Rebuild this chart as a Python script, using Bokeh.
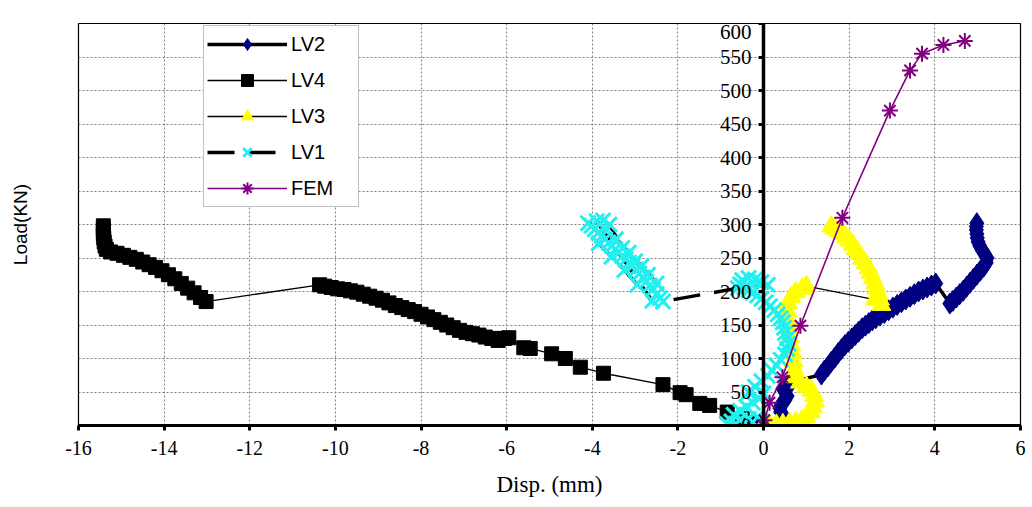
import numpy as np
from bokeh.plotting import figure
from bokeh.models import (Range1d, Legend, LegendItem, FixedTicker, LinearAxis,
                          Label, CustomLabelingPolicy)
from bokeh.embed import file_html
from bokeh.resources import INLINE

# ---------------- data ----------------
x_ticks = [-16, -14, -12, -10, -8, -6, -4, -2, 0, 2, 4, 6]
y_ticks = [0, 50, 100, 150, 200, 250, 300, 350, 400, 450, 500, 550, 600]
y_tick_labels = ["0", "50", "100", "150", "200", "250", "300", "350", "400", "450",
                 "500", "550", "600"]

lv2_x = [0.3, 0.4, 0.5, 0.5, 0.45, 0.4, 0.38, 0.42, 0.5, 0.55, 0.5, 0.45, 0.55, 0.65,
         1.35, 1.42, 1.5, 1.58, 1.66, 1.74, 1.82, 1.9, 1.98, 2.06, 2.14, 2.22, 2.3, 2.38,
         2.46, 2.54, 2.62, 2.72, 2.82, 2.92, 3.02, 3.12, 3.22, 3.32, 3.42, 3.52, 3.62,
         3.72, 3.82, 3.92, 4.02,
         4.35, 4.42, 4.5, 4.58, 4.66, 4.74, 4.82, 4.9, 4.98, 5.06, 5.14, 5.2, 5.22, 5.16,
         5.1, 5.05, 5.01, 4.99, 4.98, 4.97, 4.97, 4.98]
lv2_y = [0, 2, 5, 10, 15, 20, 26, 32, 38, 44, 50, 55, 60, 65,
         76, 82, 88, 95, 101, 108, 114, 120, 125, 130, 135, 140, 145, 149,
         153, 157, 160, 164, 168, 172, 176, 180, 184, 188, 192, 196, 200,
         203, 206, 209, 212,
         182, 186, 191, 196, 201, 207, 213, 219, 225, 231, 237, 243, 250, 256,
         262, 268, 274, 280, 286, 292, 297, 302]

lv4_x = [-15.42, -15.42, -15.42, -15.41, -15.4, -15.38, -15.35, -15.25, -15.1, -14.95,
         -14.8, -14.65, -14.5, -14.35, -14.2, -14.05, -13.9, -13.75, -13.6, -13.45,
         -13.3, -13.15, -13.02,
         -10.37, -10.25, -10.1, -9.95, -9.8, -9.65, -9.5, -9.35, -9.2, -9.05, -8.9,
         -8.75, -8.6, -8.45, -8.3, -8.15, -8.0, -7.85, -7.7, -7.55, -7.4, -7.25, -7.1,
         -6.95, -6.8, -6.65, -6.5, -6.35, -6.2, -6.05, -5.95, -5.6, -5.45,
         -4.95, -4.63, -4.28, -3.74, -2.35, -1.95, -1.81, -1.49, -1.26, -0.85, -0.5, -0.2]
lv4_y = [298, 292, 286, 280, 274, 268, 263, 259, 257, 254,
         251, 248, 244, 240, 236, 231, 225, 219, 212, 205,
         198, 191, 185,
         210, 208, 206, 204, 203, 201, 199, 196, 193, 190, 187,
         183, 179, 176, 173, 170, 166, 162, 158, 154, 150, 146, 142,
         139, 137, 135, 132, 130, 127, 130, 131, 116, 115,
         107, 100, 87, 78, 61, 49, 46, 33, 30, 20, 10, 3]

lv3_x = [0.15, 0.3, 0.45, 0.6, 0.75, 0.9, 1.0, 1.1, 1.15, 1.2, 1.18, 1.12, 1.0, 0.85,
         0.75, 0.72, 0.7, 0.68, 0.65, 0.62, 0.6, 0.57, 0.55, 0.58, 0.65, 0.75, 0.9, 1.0,
         2.6, 2.75, 2.72, 2.68, 2.64, 2.6, 2.55, 2.5, 2.45, 2.38, 2.3, 2.22, 2.15, 2.08,
         2.0, 1.92, 1.84, 1.75, 1.66, 1.58]
lv3_y = [0, 1, 2, 3, 5, 8, 13, 20, 28, 36, 44, 52, 58, 64,
         72, 84, 96, 108, 120, 132, 145, 158, 170, 182, 192, 199, 204, 208,
         188, 180, 188, 196, 204, 212, 220, 228, 235, 242, 249, 256, 263, 270,
         276, 281, 286, 290, 294, 297]

lv1_x = [-0.85, -0.75, -0.65, -0.55, -0.45, -0.35, -0.25, -0.15, -0.05, -0.7, -0.55,
         -0.4, -0.25, -0.1, 0.0, -0.35, -0.2, -0.05, 0.1, 0.2, 0.3, 0.4, 0.5, 0.55, 0.58,
         0.55, 0.5, 0.48, 0.45, 0.4, 0.33, 0.25, 0.15, 0.05, -0.05, -0.15, -0.25, -0.35,
         -0.45, -0.55, -0.5, -0.35, -0.2, -0.05, 0.1, -0.6,
         -2.35, -2.42, -2.5, -2.58, -2.66, -2.74, -2.82, -2.9, -2.98, -3.06, -3.14,
         -3.22, -3.3, -3.38, -3.46, -3.54, -3.62, -3.7, -3.78, -3.86, -3.94, -4.02,
         -4.1, -3.75, -3.6, -3.3, -3.0, -2.7, -2.5, -2.85, -3.15, -3.45, -3.9,
         -2.6, -2.95, -3.25, -3.55, -3.85]
lv1_y = [2, 6, 3, 8, 4, 10, 5, 12, 6, 16, 22,
         28, 34, 40, 48, 50, 58, 66, 74, 82, 90, 98, 106, 114, 122,
         130, 138, 146, 154, 160, 166, 172, 178, 184, 189, 194, 198, 202,
         206, 211, 217, 220, 218, 214, 210, 205,
         185, 190, 196, 203, 209, 215, 221, 227, 233, 238, 243,
         248, 253, 258, 263, 268, 273, 278, 283, 288, 293, 298,
         302, 306, 300, 265, 245, 225, 212, 238, 258, 278, 305,
         186, 210, 232, 252, 272]

fem_x = [0.0, 0.02, 0.14, 0.44, 0.86, 1.84, 2.95, 3.42, 3.7, 4.2, 4.7]
fem_y = [0, 8, 34, 72, 149, 310, 470, 530, 555, 568, 574]

# ---------------- figure ----------------
p = figure(width=1032, height=507, x_range=Range1d(-16, 6), y_range=Range1d(0, 600),
           output_backend="svg", toolbar_location=None,
           min_border_left=78, min_border_right=12, min_border_top=23, min_border_bottom=82)
p.background_fill_color = "white"
p.border_fill_color = "white"
p.outline_line_color = "black"
p.outline_line_width = 1.2

# grid
p.xgrid.ticker = FixedTicker(ticks=x_ticks)
p.ygrid.ticker = FixedTicker(ticks=y_ticks)
p.grid.grid_line_color = "#808080"
p.grid.grid_line_dash = "2 2"
p.grid.grid_line_width = 1

# x axis
xa = p.xaxis[0]
xa.ticker = FixedTicker(ticks=x_ticks)
xa.major_label_overrides = {t: str(t) for t in x_ticks}
xa.axis_label = "Disp. (mm)"
xa.axis_label_text_font = "Liberation Serif"
xa.axis_label_text_font_style = "normal"
xa.axis_label_text_font_size = "23px"
xa.axis_label_text_color = "black"
xa.axis_label_standoff = 14
xa.major_label_text_font = "Liberation Serif"
xa.major_label_text_font_size = "20px"
xa.major_label_text_color = "black"
xa.major_label_standoff = 10
xa.axis_line_width = 3
xa.axis_line_color = "black"
xa.major_tick_line_width = 3
xa.major_tick_out = 5
xa.major_tick_in = 0
xa.minor_tick_line_color = None

# y axis line and ticks drawn at x = 0; its labels are Label annotations below
ya = p.yaxis[0]
ya.fixed_location = 0
ya.ticker = FixedTicker(ticks=y_ticks)
ya.major_label_policy = CustomLabelingPolicy(code="""
    const r = indices.clone()
    for (let i = 0; i < r.size; i++) r.unset(i)
    return r
""")
ya.major_label_text_font_size = "0px"
ya.axis_line_width = 3.5
ya.axis_line_color = "black"
ya.major_tick_line_width = 3
ya.major_tick_out = 5
ya.major_tick_in = 0
ya.minor_tick_line_color = None

# the frame clips these labels, so the top one is nudged down to stay readable
for t, lab in zip(y_ticks, y_tick_labels):
    p.add_layout(Label(x=0, y=t, text=lab, x_offset=-12,
                       y_offset=(-8 if t == y_ticks[-1] else 0),
                       text_align="right", text_baseline="middle",
                       text_font="Liberation Serif", text_font_size="21px",
                       text_color="black"))

# outer axis that only carries the "Load(KN)" label
la = LinearAxis(ticker=FixedTicker(ticks=[]), axis_label="Load(KN)",
                axis_label_text_font="Liberation Sans", axis_label_text_font_size="19px",
                axis_label_text_font_style="normal", axis_label_text_color="black",
                axis_label_standoff=48, axis_line_color=None,
                major_tick_line_color=None, minor_tick_line_color=None)
p.add_layout(la, "left")

# ---------------- series ----------------
r2l = p.line(lv2_x, lv2_y, line_color="black", line_width=3.5)
r2m = p.scatter(lv2_x, lv2_y, marker="diamond", size=21,
                fill_color="#000080", line_color="#000080")
r4l = p.line(lv4_x, lv4_y, line_color="black", line_width=1.3)
r4m = p.scatter(lv4_x, lv4_y, marker="square", size=14, fill_color="black", line_color="black")
r3l = p.line(lv3_x, lv3_y, line_color="black", line_width=1.3)
r3m = p.scatter(lv3_x, lv3_y, marker="triangle", size=19, fill_color="#FFFF00", line_color="#FFFF00")
r1l = p.line(lv1_x, lv1_y, line_color="black", line_width=3.5, line_dash="27 14")
r1m = p.scatter(lv1_x, lv1_y, marker="x", size=21, line_color="#22F0F0", line_width=3)
rfl = p.line(fem_x, fem_y, line_color="#800080", line_width=1.6)
rfm = p.scatter(fem_x, fem_y, marker="asterisk", size=16, line_color="#800080", line_width=2)

legend = Legend(items=[
    LegendItem(label="LV2", renderers=[r2l, r2m]),
    LegendItem(label="LV4", renderers=[r4l, r4m]),
    LegendItem(label="LV3", renderers=[r3l, r3m]),
    LegendItem(label="LV1", renderers=[r1l, r1m]),
    LegendItem(label="FEM", renderers=[rfl, rfm]),
], location=(125, 218), padding=3, spacing=6, glyph_width=80, glyph_height=30,
    label_height=30, label_width=64, label_standoff=4, label_text_font="Liberation Sans",
    label_text_font_size="20px", label_text_color="black",
    border_line_color="#808080", border_line_width=1,
    background_fill_color="white", background_fill_alpha=1.0)
p.add_layout(legend)

open("out.html", "w").write(file_html(p, INLINE))
